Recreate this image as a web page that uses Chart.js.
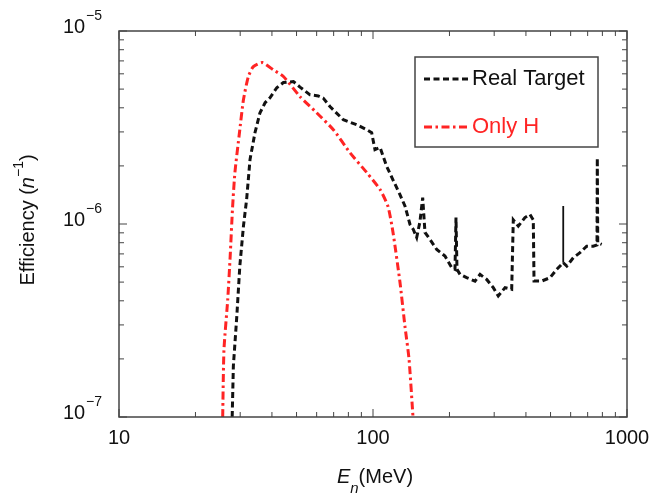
<!DOCTYPE html>
<html>
<head>
<meta charset="utf-8">
<script src="https://cdn.jsdelivr.net/npm/chart.js@4"></script>
<style>
  html, body { margin: 0; padding: 0; background: #fff; }
  #wrap { width: 651px; height: 496px; }
</style>
</head>
<body>
<div id="wrap"><canvas id="effChart" width="651" height="496"></canvas></div>
<script>
// data (E in MeV, efficiency per neutron)
const realE = [27.9, 28.2, 29.1, 29.9, 30.9, 31.8, 32.8, 34.3, 35.9, 37.6, 39.3, 41.8, 44.4, 48.6, 51.6,
  56.5, 60.9, 63.7, 67.7, 76.4, 86.2, 94.4, 98.8, 101.8, 106.6, 113.2, 120.2, 127.7, 133.6, 139.9,
  144.1, 148.6, 153.1, 156.9, 160.2, 167.6, 178.2, 192.0, 204.1, 210.3, 212.2, 214.1, 220.1, 233.7,
  252.1, 263.9, 280.3, 297.6, 311.3, 331.1, 351.6, 356.7, 373.3, 396.5, 415.0, 427.6, 430.5, 461.3,
  497.7, 528.6, 561, 561, 561, 579.2, 614.8, 653.0, 693.8, 736.4, 762, 764, 767, 794.9];
const realEff = [1.0e-7, 1.84e-7, 3.34e-7, 6.05e-7, 9.75e-7, 1.34e-6, 2.16e-6, 2.97e-6, 3.77e-6, 4.25e-6,
  4.51e-6, 5.08e-6, 5.41e-6, 5.47e-6, 5.12e-6, 4.67e-6, 4.61e-6, 4.49e-6, 4.06e-6, 3.47e-6, 3.27e-6,
  3.08e-6, 2.97e-6, 2.43e-6, 2.49e-6, 1.99e-6, 1.68e-6, 1.42e-6, 1.24e-6, 9.94e-7, 9.37e-7, 8.51e-7,
  1.03e-6, 1.37e-6, 9.04e-7, 8.32e-7, 7.38e-7, 6.82e-7, 5.94e-7, 5.82e-7, 1.08e-6, 5.82e-7, 5.48e-7,
  5.27e-7, 5.06e-7, 5.48e-7, 5.16e-7, 4.68e-7, 4.24e-7, 4.68e-7, 4.59e-7, 1.05e-6, 9.75e-7, 1.08e-6,
  1.12e-6, 1.05e-6, 5.06e-7, 5.06e-7, 5.27e-7, 5.82e-7, 6.30e-7, 1.24e-6, 6.30e-7, 6.05e-7, 6.69e-7,
  7.10e-7, 7.68e-7, 7.68e-7, 7.8e-7, 2.20e-6, 8.0e-7, 7.84e-7];
const onlyHE = [25.6, 25.9, 26.8, 27.4, 28.0, 28.6, 29.8, 30.9, 32.3, 33.8, 36.7, 40.5, 44.4, 51.6, 60.0,
  69.8, 81.2, 94.4, 106.6, 114.6, 119.9, 127.7, 133.6, 138.6, 143.7];
const onlyHEff = [1.0e-7, 2.24e-7, 4.07e-7, 6.82e-7, 1.22e-6, 1.85e-6, 2.97e-6, 4.40e-6, 5.81e-6, 6.54e-6,
  6.86e-6, 6.29e-6, 5.81e-6, 4.57e-6, 3.77e-6, 3.08e-6, 2.34e-6, 1.85e-6, 1.51e-6, 1.23e-6, 9.04e-7,
  4.99e-7, 2.95e-7, 2.0e-7, 1.0e-7];
const solidSpikeE = [561];

const xTicks = [10, 100, 1000];
const yTicks = [1e-7, 1e-6, 1e-5];
const yTickExp = ["\u22127", "\u22126", "\u22125"];
const seriesNames = ["Real Target", "Only H"];

const FONT = "'Liberation Sans', Arial, sans-serif";
const realDash = [6, 3.5];
const onlyHDash = [8, 3.5, 2.5, 3.5];
const realColor = "#111111";
const onlyHColor = "#ff2424";
const frameColor = "#444444";

// text runs helper (for italic / super- and subscripts)
function runsWidth(ctx, runs) {
  let w = 0;
  runs.forEach(r => { ctx.font = r.font; w += ctx.measureText(r.text).width; });
  return w;
}
function drawRuns(ctx, runs, x, y) {
  runs.forEach(r => {
    ctx.font = r.font;
    ctx.fillText(r.text, x, y + (r.dy || 0));
    x += ctx.measureText(r.text).width;
  });
}

const frameAndLabels = {
  id: "frameAndLabels",
  afterDraw(chart) {
    const ctx = chart.ctx;
    const area = chart.chartArea;
    const xs = chart.scales.x;
    const ys = chart.scales.y;
    ctx.save();

    // frame
    ctx.strokeStyle = frameColor;
    ctx.lineWidth = 1.5;
    ctx.setLineDash([]);
    ctx.strokeRect(area.left, area.top, area.right - area.left, area.bottom - area.top);

    // inward ticks on all four sides
    ctx.lineWidth = 1;
    ctx.beginPath();
    for (let d = 10; d <= 1000; d *= 10) {
      for (let m = 1; m <= 9; m++) {
        const v = m * d;
        if (v > 1000) break;
        const px = xs.getPixelForValue(v);
        const len = m === 1 ? 8 : 5;
        ctx.moveTo(px, area.bottom); ctx.lineTo(px, area.bottom - len);
        ctx.moveTo(px, area.top); ctx.lineTo(px, area.top + len);
      }
    }
    for (let d = 1e-7; d <= 1.01e-5; d *= 10) {
      for (let m = 1; m <= 9; m++) {
        const v = m * d;
        if (v > 1.01e-5) break;
        const py = ys.getPixelForValue(v);
        const len = m === 1 ? 8 : 5;
        ctx.moveTo(area.left, py); ctx.lineTo(area.left + len, py);
        ctx.moveTo(area.right, py); ctx.lineTo(area.right - len, py);
      }
    }
    ctx.stroke();

    // tick labels
    ctx.fillStyle = "#111";
    ctx.textBaseline = "middle";
    ctx.textAlign = "center";
    ctx.font = "20px " + FONT;
    xTicks.forEach(v => ctx.fillText(String(v), xs.getPixelForValue(v), area.bottom + 21));

    ctx.textAlign = "left";
    yTicks.forEach((v, i) => {
      const py = ys.getPixelForValue(v);
      ctx.font = "20px " + FONT;
      ctx.fillText("10", 63, py - 4);
      ctx.font = "14px " + FONT;
      ctx.fillText(yTickExp[i], 86, py - 15);
    });

    // x title
    const xRuns = [
      { text: "E", font: "italic 20px " + FONT },
      { text: "n", font: "italic 15px " + FONT, dy: 12 },
      { text: "(MeV)", font: "20px " + FONT }
    ];
    const xw = runsWidth(ctx, xRuns);
    drawRuns(ctx, xRuns, (area.left + area.right) / 2 + 2 - xw / 2, 477);

    // y title
    const yRuns = [
      { text: "Efficiency (", font: "20px " + FONT },
      { text: "n", font: "italic 20px " + FONT },
      { text: "\u22121", font: "14px " + FONT, dy: -9 },
      { text: ")", font: "20px " + FONT }
    ];
    const yw = runsWidth(ctx, yRuns);
    ctx.save();
    ctx.translate(28, (area.top + area.bottom) / 2 - 4);
    ctx.rotate(-Math.PI / 2);
    drawRuns(ctx, yRuns, -yw / 2, 0);
    ctx.restore();

    // legend box inside plot
    const lx = area.right - 212, ly = area.top + 26;
    ctx.strokeStyle = frameColor;
    ctx.lineWidth = 1.5;
    ctx.strokeRect(lx, ly, 183, 90);
    const entries = [
      { name: seriesNames[0], color: realColor, dash: realDash, y: ly + 22 },
      { name: seriesNames[1], color: onlyHColor, dash: onlyHDash, y: ly + 70 }
    ];
    entries.forEach(e => {
      ctx.strokeStyle = e.color;
      ctx.lineWidth = 2.8;
      ctx.setLineDash(e.dash);
      ctx.beginPath();
      ctx.moveTo(lx + 9, e.y);
      ctx.lineTo(lx + 53, e.y);
      ctx.stroke();
      ctx.setLineDash([]);
      ctx.fillStyle = e.color;
      ctx.font = "22px " + FONT;
      ctx.fillText(e.name, lx + 57, e.y);
    });

    ctx.restore();
  }
};

new Chart(document.getElementById("effChart"), {
  type: "line",
  data: {
    datasets: [
      {
        label: seriesNames[0],
        data: realE.map((e, i) => ({ x: e, y: realEff[i] })),
        borderColor: realColor,
        borderWidth: 3,
        borderDash: realDash,
        pointRadius: 0,
        tension: 0,
        segment: {
          borderDash: c => (solidSpikeE.includes(realE[c.p0DataIndex]) && solidSpikeE.includes(realE[c.p1DataIndex])) ? [] : realDash,
          borderWidth: c => (solidSpikeE.includes(realE[c.p0DataIndex]) && solidSpikeE.includes(realE[c.p1DataIndex])) ? 1.8 : 3
        }
      },
      {
        label: seriesNames[1],
        data: onlyHE.map((e, i) => ({ x: e, y: onlyHEff[i] })),
        borderColor: onlyHColor,
        borderWidth: 3,
        borderDash: onlyHDash,
        pointRadius: 0,
        tension: 0.2
      }
    ]
  },
  options: {
    responsive: false,
    animation: false,
    devicePixelRatio: 1,
    layout: { padding: { left: 119, right: 24, top: 31, bottom: 79 } },
    plugins: { legend: { display: false }, tooltip: { enabled: false } },
    scales: {
      x: { type: "logarithmic", min: 10, max: 1000, display: false },
      y: { type: "logarithmic", min: 1e-7, max: 1e-5, display: false }
    }
  },
  plugins: [frameAndLabels]
});
</script>
</body>
</html>
